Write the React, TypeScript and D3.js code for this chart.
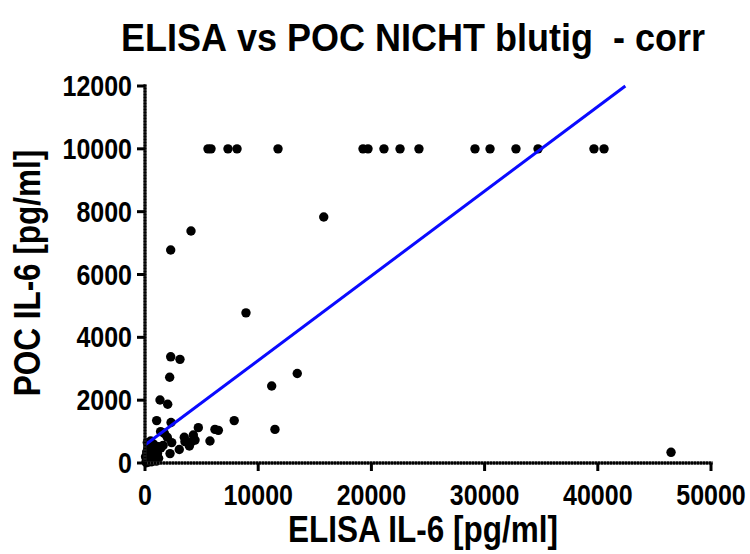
import React from "react";
import * as d3 from "d3";

const TITLE = "ELISA vs POC NICHT blutig  - corr";
const X_LABEL = "ELISA IL-6 [pg/ml]";
const Y_LABEL = "POC IL-6 [pg/ml]";

const xTicks = [0, 10000, 20000, 30000, 40000, 50000];
const yTicks = [0, 2000, 4000, 6000, 8000, 10000, 12000];

// ELISA values (x) and POC values (y)
const elisa = [
  5565, 5830, 7330, 8130, 11750, 19260, 19700, 21110, 22530, 24200, 29150, 30480, 32770, 34720, 39660, 40550,
  4064, 2270, 15790, 8920, 2270, 3090, 2180, 13450, 11190, 1325, 2005, 1030, 2300, 7880, 11480, 4710, 6180, 6480,
  1380, 1710, 1970, 2360, 3470, 3530, 4270, 4120, 4420, 3920, 3030, 2210, 5740, 1180, 46470,
  100, 200, 300, 400, 500, 600, 700, 800, 900, 1000, 150, 250, 350, 450, 550, 650, 750, 850, 950, 1100,
  50, 120, 200, 300, 400, 600, 1200, 700, 1000, 500, 1400, 1600,
];
const poc = [
  10000, 10000, 10000, 10000, 10000, 10000, 10000, 10000, 10000, 10000, 10000, 10000, 10000, 10000, 10000, 10000,
  7385, 6780, 7830, 4780, 3380, 3300, 2730, 2850, 2450, 2005, 1870, 1350, 1290, 1350, 1070, 1125, 1070, 1040,
  1000, 945, 820, 650, 820, 680, 890, 680, 730, 540, 430, 300, 700, 520, 340,
  50, 120, 30, 200, 80, 300, 150, 420, 250, 60, 350, 480, 600, 380, 520, 180, 600, 90, 350, 300,
  200, 10, 650, 260, 520, 40, 150, 450, 500, 700, 480, 560,
];

// regression line
const FIT_INTERCEPT = 573;
const FIT_SLOPE = 0.2693;

const font = "'Liberation Sans', Arial, sans-serif";

function SText({ x, y, size, anchor, rotate, stretch, children }: any) {
  const tr = `translate(${x},${y})${rotate ? ` rotate(${rotate})` : ""} scale(1,${stretch})`;
  return (
    <text transform={tr} textAnchor={anchor} fontFamily={font} fontWeight="bold" fontSize={size}>
      {children}
    </text>
  );
}

export default function App() {
  const W = 750;
  const H = 554;
  const x = d3.scaleLinear().domain([0, 50000]).range([145, 711]);
  const y = d3.scaleLinear().domain([0, 12000]).range([463, 86]);

  const xEnd = (12000 - FIT_INTERCEPT) / FIT_SLOPE;
  const line = d3
    .line<number>()
    .x((d) => x(d))
    .y((d) => y(FIT_INTERCEPT + FIT_SLOPE * d));

  const pts = elisa.map((e, i) => ({ x: e, y: poc[i] }));

  return (
    <svg width={W} height={H} style={{ position: "absolute", left: 0, top: 0, background: "#fff" }}>
      <rect x={0} y={0} width={W} height={H} fill="#fff" />
      <SText x={413} y={51} size={36} anchor="middle" stretch={1.08}>
        {TITLE.replace(/ /g, "\u00a0")}
      </SText>

      {/* points */}
      {pts.map((p, i) => (
        <circle key={i} cx={x(p.x)} cy={y(p.y)} r={4.7} fill="#000" />
      ))}

      {/* regression line */}
      <path d={line([0, xEnd]) || ""} stroke="#0a0aff" strokeWidth={3} fill="none" />

      {/* y axis */}
      <line x1={145} x2={145} y1={y(12000) - 1.5} y2={y(0) + 1.5} stroke="#333" strokeWidth={3} />
      <line x1={145} x2={145} y1={y(12000) - 1.5} y2={y(0) + 1.5} stroke="#000" strokeWidth={3} strokeDasharray="2 1" />
      {yTicks.map((t) => (
        <g key={t}>
          <line x1={137} x2={145} y1={y(t)} y2={y(t)} stroke="#000" strokeWidth={3} />
          <SText x={132} y={y(t) + 10} size={25} anchor="end" stretch={1.15}>
            {t}
          </SText>
        </g>
      ))}

      {/* x axis */}
      <line x1={145} x2={x(50000) + 1.5} y1={463} y2={463} stroke="#333" strokeWidth={3} />
      <line x1={145} x2={x(50000) + 1.5} y1={463} y2={463} stroke="#000" strokeWidth={3} strokeDasharray="2 1" />
      {xTicks.map((t) => (
        <g key={t}>
          <line x1={x(t)} x2={x(t)} y1={463} y2={471} stroke="#000" strokeWidth={3} />
          <SText x={x(t)} y={505} size={25} anchor="middle" stretch={1.15}>
            {t}
          </SText>
        </g>
      ))}

      <SText x={423} y={542} size={31.5} anchor="middle" stretch={1.15}>
        {X_LABEL}
      </SText>
      <SText x={40} y={273} size={31.5} anchor="middle" rotate={-90} stretch={1.15}>
        {Y_LABEL}
      </SText>
    </svg>
  );
}
